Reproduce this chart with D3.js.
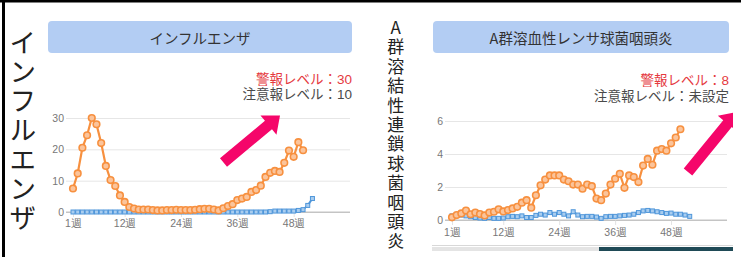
<!DOCTYPE html>
<html lang="ja">
<head>
<meta charset="UTF-8">
<title>インフルエンザ / A群溶血性レンサ球菌咽頭炎</title>
<script src="https://d3js.org/d3.v7.min.js"></script>
<style>
  body { margin: 0; padding: 0; background: #fff; position: relative; }
  svg { display: block; font-family: "Liberation Sans", "Noto Sans CJK JP", sans-serif; }
  .vlabel {
    position: absolute;
    writing-mode: vertical-rl;
    text-orientation: upright;
    font-family: "Noto Sans CJK JP", sans-serif;
    color: #222;
    white-space: nowrap;
  }
</style>
</head>
<body>
<svg id="chart"></svg>
<script>
const width = 741;
const height = 257;

// week ticks shown on the x axis
const weekTicks = [1, 12, 24, 36, 48];

// インフルエンザ (per sentinel)
const fluTicks = [0, 10, 20, 30];
const fluOrange = [7.5, 12.3, 20.5, 24.5, 30, 28, 22, 14.7, 10.2, 8.3,
  5.3, 3.2, 1.6, 1.1, 0.8, 0.8, 0.8, 0.6, 0.5, 0.5,
  0.6, 0.6, 0.7, 0.6, 0.6, 0.6, 0.7, 0.9, 1.0, 1.0,
  0.8, 0.5, 1.2, 1.9, 2.5, 3.8, 4.3, 4.8, 6.4, 7.0,
  8.4, 11.2, 12.5, 13.1, 12.8, 15.7, 19.6, 17.6, 22.3, 19.7];
const fluBlue = [0, 0, 0, 0, 0, 0, 0, 0, 0, 0,
  0, 0, 0, 0, 0, 0, 0, 0, 0, 0,
  0, 0, 0, 0, 0, 0, 0, 0, 0, 0,
  0, 0, 0, 0, 0, 0, 0, 0, 0, 0,
  0, 0, 0.1, 0.3, 0.3, 0.3, 0.3, 0.3, 0.5, 0.75,
  2.1, 4.3];

// A群溶血性レンサ球菌咽頭炎
const strepTicks = [0, 2, 4, 6];
const strepOrange = [0.16, 0.3, 0.4, 0.57, 0.35, 0.45, 0.36, 0.28, 0.45, 0.5,
  0.65, 0.52, 0.6, 0.7, 0.8, 1.05, 1.2, 0.75, 1.5, 2.1,
  2.45, 2.7, 2.7, 2.7, 2.45, 2.35, 2.15, 2.15, 1.9, 2.15,
  2.05, 1.3, 1.2, 1.6, 2.15, 2.5, 2.8, 1.95, 2.7, 2.6,
  2.3, 3.3, 3.7, 3.35, 4.2, 4.3, 4.2, 4.65, 5.0, 5.5];
const strepBlue = [0.25, 0.28, 0.3, 0.25, 0.2, 0.15, 0.12, 0.1, 0.15, 0.1,
  0.1, 0.12, 0.2, 0.22, 0.2, 0.25, 0.15, 0.15, 0.28, 0.35,
  0.3, 0.45, 0.35, 0.45, 0.35, 0.25, 0.5, 0.3, 0.2, 0.22,
  0.22, 0.18, 0.1, 0.2, 0.22, 0.22, 0.25, 0.28, 0.3, 0.35,
  0.45, 0.55, 0.58, 0.55, 0.5, 0.45, 0.4, 0.42, 0.35, 0.35,
  0.3, 0.22];

const orange = "#f7903f";
const blue = "#4f96da";

const svg = d3.select("#chart")
  .attr("width", width)
  .attr("height", height);

svg.append("defs").append("clipPath")
  .attr("id", "rightClip")
  .append("rect")
  .attr("x", 0).attr("y", 0).attr("width", 733).attr("height", height);

// outer frame (top and left only)
svg.append("rect").attr("x", 0).attr("y", 0).attr("width", width).attr("height", 2.5).attr("fill", "#000");
svg.append("rect").attr("x", 2).attr("y", 0).attr("width", 3).attr("height", height).attr("fill", "#000");

// vertical disease names, one column of text each
function verticalLabel(text, cx, firstCenter, step, size) {
  const lh = size * 1.2;
  d3.select("body").append("div")
    .attr("class", "vlabel")
    .style("left", (cx - lh / 2) + "px")
    .style("top", (firstCenter - size / 2) + "px")
    .style("font-size", size + "px")
    .style("line-height", lh + "px")
    .style("letter-spacing", (step - size) + "px")
    .text(text);
}

function arrow(g, tail, tip, shaft, headLen, headHalf) {
  const dx = tip[0] - tail[0], dy = tip[1] - tail[1];
  const len = Math.hypot(dx, dy);
  const ux = dx / len, uy = dy / len;
  const nx = -uy, ny = ux;
  const bx = tip[0] - ux * headLen, by = tip[1] - uy * headLen;
  const pts = [
    [tail[0] + nx * shaft, tail[1] + ny * shaft],
    [bx + nx * shaft, by + ny * shaft],
    [bx + nx * headHalf, by + ny * headHalf],
    tip,
    [bx - nx * headHalf, by - ny * headHalf],
    [bx - nx * shaft, by - ny * shaft],
    [tail[0] - nx * shaft, tail[1] - ny * shaft]
  ];
  g.append("polygon")
    .attr("points", pts.map(p => p.join(",")).join(" "))
    .attr("fill", "#f5066a");
}

function drawPanel(p) {
  const g = svg.append("g");

  // title box
  g.append("rect")
    .attr("x", p.box[0]).attr("y", 21)
    .attr("width", p.box[1] - p.box[0]).attr("height", 32)
    .attr("rx", 4)
    .attr("fill", "#b3cdf3");
  g.append("text")
    .attr("x", (p.box[0] + p.box[1]) / 2)
    .attr("y", 37)
    .attr("text-anchor", "middle")
    .attr("dominant-baseline", "central")
    .attr("font-family", "'Noto Sans CJK JP', sans-serif")
    .attr("font-size", 14.5)
    .attr("fill", "#333")
    .text(p.title);

  // alert levels
  g.append("text")
    .attr("x", p.box[1]).attr("y", p.alertY[0])
    .attr("text-anchor", "end").attr("dominant-baseline", "central")
    .attr("font-size", 13.5).attr("fill", "#e53a3f")
    .text(p.alert);
  g.append("text")
    .attr("x", p.box[1]).attr("y", p.alertY[1])
    .attr("text-anchor", "end").attr("dominant-baseline", "central")
    .attr("font-size", 13.5).attr("fill", "#4a4a4a")
    .text(p.caution);

  const x = d3.scaleLinear().domain([1, 60]).range(p.xRange);
  const y = d3.scaleLinear().domain([0, d3.max(p.yTicks)]).range(p.yRange);

  // horizontal grid + y tick labels
  const yAxis = g.append("g")
    .attr("transform", `translate(${p.xRange[0]},0)`)
    .call(d3.axisLeft(y).tickValues(p.yTicks).tickFormat(d => d)
      .tickSize(-(p.xRange[1] - p.xRange[0])).tickPadding(10));
  yAxis.select(".domain").remove();
  yAxis.selectAll(".tick line")
    .attr("x1", -7)
    .attr("stroke", d => d === 0 ? "#c4c4c4" : "#e6e6e6");
  yAxis.selectAll(".tick text")
    .attr("x", -9)
    .attr("font-size", 10.5).attr("fill", "#777");

  // vertical grid + x tick labels
  const xAxis = g.append("g")
    .attr("transform", `translate(0,${p.yRange[0]})`)
    .call(d3.axisBottom(x).tickValues(weekTicks).tickSize(-(p.yRange[0] - p.yRange[1])).tickFormat(d => d + "週"));
  xAxis.select(".domain").remove();
  xAxis.selectAll(".tick line")
    .attr("y2", 5)
    .attr("stroke", "#e3e3e3");
  xAxis.selectAll(".tick text")
    .attr("y", p.labelDy)
    .attr("font-size", 10.5).attr("fill", "#777");
  // zero line over the grid
  g.append("line")
    .attr("x1", p.xRange[0] - 7).attr("x2", p.xRange[1])
    .attr("y1", y(0)).attr("y2", y(0))
    .attr("stroke", "#c4c4c4");

  const line = d3.line().x((d, i) => x(i + 1)).y(d => y(d));

  // blue series (squares)
  g.append("path")
    .datum(p.blue)
    .attr("d", line)
    .attr("fill", "none")
    .attr("stroke", blue)
    .attr("stroke-width", 2);
  g.append("g").selectAll("rect")
    .data(p.blue)
    .join("rect")
    .attr("x", (d, i) => x(i + 1) - 2)
    .attr("y", d => y(d) - 2)
    .attr("width", 4).attr("height", 4)
    .attr("fill", "#a9cdef")
    .attr("stroke", blue)
    .attr("stroke-width", 1);

  // orange series (circles)
  g.append("path")
    .datum(p.orange)
    .attr("d", line)
    .attr("fill", "none")
    .attr("stroke", orange)
    .attr("stroke-width", 2.2);
  g.append("g").selectAll("circle")
    .data(p.orange)
    .join("circle")
    .attr("cx", (d, i) => x(i + 1))
    .attr("cy", d => y(d))
    .attr("r", 3.3)
    .attr("fill", "#fbc49b")
    .attr("stroke", orange)
    .attr("stroke-width", 1.6);

  return g;
}

verticalLabel("インフルエンザ", 22, 42, 29.2, 27);
verticalLabel("A群溶結性連鎖球菌咽頭炎", 395, 27, 19.4, 17);

const left = drawPanel({
  box: [48, 352],
  title: "インフルエンザ",
  alert: "警報レベル：30",
  caution: "注意報レベル：10",
  alertY: [79, 94.5],
  xRange: [73, 350],
  yRange: [212, 118],
  yTicks: fluTicks,
  labelDy: 8,
  orange: fluOrange,
  blue: fluBlue
});
arrow(left, [223.5, 162.5], [280, 115.5], 5.5, 15, 12.5);

const right = drawPanel({
  box: [433, 729],
  title: "A群溶血性レンサ球菌咽頭炎",
  alert: "警報レベル：8",
  caution: "注意報レベル：未設定",
  alertY: [80, 96.5],
  xRange: [452, 727],
  yRange: [220, 121],
  yTicks: strepTicks,
  labelDy: 9,
  orange: strepOrange,
  blue: strepBlue
});
const rightArrow = right.append("g").attr("clip-path", "url(#rightClip)");
arrow(rightArrow, [688, 172], [737, 112], 5.5, 15, 12.5);

// scroll bar under the right panel
svg.append("rect").attr("x", 432).attr("y", 245).attr("width", 301).attr("height", 1).attr("fill", "#d8d8d8");
svg.append("rect").attr("x", 432).attr("y", 247).attr("width", 167).attr("height", 4).attr("fill", "#e4e4e4");
svg.append("rect").attr("x", 599).attr("y", 247).attr("width", 134).attr("height", 4).attr("fill", "#1f4a56");
</script>
</body>
</html>
